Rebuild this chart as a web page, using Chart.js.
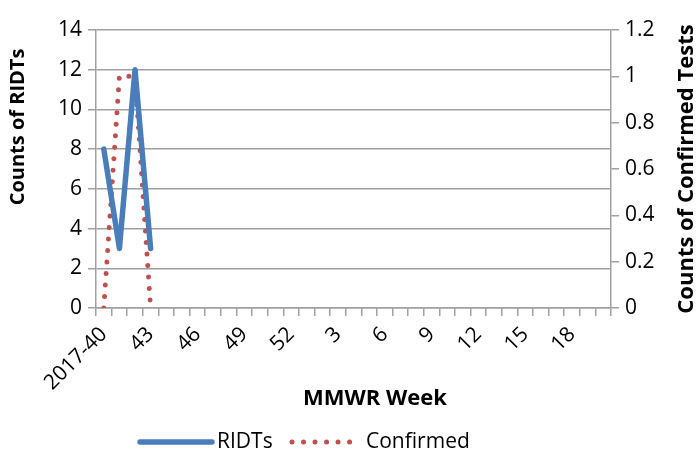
<html>
  <head>
    <title>RIDTs and Confirmed Tests by MMWR Week</title>
    <script src="https://cdn.jsdelivr.net/npm/chart.js"></script>
    <style>
      body {
        margin: 0;
        padding: 0;
        background-color: #ffffff;
      }
    </style>
  </head>
  <body>
    <canvas id="weekChart" width="699" height="458"></canvas>

    <script>
      // MMWR weeks: 2017-40 .. 52, then 1 .. 20
      const weeks = ['2017-40', '41', '42', '43', '44', '45', '46', '47', '48', '49', '50', '51', '52',
                     '1', '2', '3', '4', '5', '6', '7', '8', '9', '10', '11', '12', '13', '14', '15',
                     '16', '17', '18', '19', '20'];
      // only the first weeks have been reported
      const ridts = [8, 3, 12, 3];
      const confirmed = [0, 1, 1, 0];

      const leftTicks = [0, 2, 4, 6, 8, 10, 12, 14];
      const rightTicks = [0, 0.2, 0.4, 0.6, 0.8, 1, 1.2];

      const gridGrey = '#a0a0a0';
      const tickFont = { family: 'Open Sans', size: 21 };

      // axis titles and legend, placed like the Excel original
      const extras = {
        id: 'extras',
        afterDraw: function(chart) {
          const c = chart.ctx;
          const area = chart.chartArea;
          c.save();
          c.fillStyle = '#000';
          c.textBaseline = 'middle';

          c.textAlign = 'center';
          c.font = 'bold 20px "Open Sans"';
          c.save();
          c.translate(18, 127);
          c.rotate(-Math.PI / 2);
          c.fillText('Counts of RIDTs', 0, 0);
          c.restore();

          c.font = 'bold 22px "Open Sans"';
          c.save();
          c.translate(687, (area.top + area.bottom) / 2);
          c.rotate(-Math.PI / 2);
          c.fillText('Counts of Confirmed Tests', 0, 0);
          c.restore();

          c.fillText('MMWR Week', 375, 399);

          // legend
          const y = 442;
          const items = [
            { ds: chart.data.datasets[0], x0: 140, x1: 212, tx: 217 },
            { ds: chart.data.datasets[1], x0: 292, x1: 355, tx: 366 }
          ];
          c.font = '21px "Open Sans"';
          c.textAlign = 'left';
          items.forEach(function(it) {
            c.save();
            c.strokeStyle = it.ds.borderColor;
            c.lineWidth = it.ds.borderWidth;
            c.lineCap = it.ds.borderCapStyle || 'round';
            c.setLineDash(it.ds.borderDash || []);
            c.beginPath();
            c.moveTo(it.x0, y);
            c.lineTo(it.x1, y);
            c.stroke();
            c.restore();
            c.fillText(it.ds.label, it.tx, y);
          });
          c.restore();
        }
      };

      const ctx = document.getElementById('weekChart').getContext('2d');
      const weekChart = new Chart(ctx, {
        type: 'line',
        data: {
          labels: weeks,
          datasets: [{
            label: 'RIDTs',
            data: ridts,
            yAxisID: 'y',
            borderColor: '#4a7ebb',
            backgroundColor: '#4a7ebb',
            borderWidth: 5.5,
            borderJoinStyle: 'round',
            borderCapStyle: 'round',
            pointRadius: 0,
            tension: 0
          }, {
            label: 'Confirmed',
            data: confirmed,
            yAxisID: 'y1',
            borderColor: '#c0504d',
            backgroundColor: '#c0504d',
            borderWidth: 5,
            borderDash: [0.01, 11.5],
            borderCapStyle: 'round',
            pointRadius: 0,
            tension: 0
          }]
        },
        options: {
          responsive: false,
          animation: false,
          maintainAspectRatio: false,
          layout: { padding: { top: 30, bottom: 0 } },
          plugins: {
            tooltip: { enabled: false },
            legend: { display: false }
          },
          scales: {
            x: {
              offset: true,
              grid: {
                offset: true,
                drawOnChartArea: false,
                drawTicks: true,
                tickLength: 8,
                color: gridGrey,
                lineWidth: 1.5
              },
              border: { color: gridGrey, width: 1.5 },
              ticks: {
                autoSkip: false,
                maxRotation: 45,
                minRotation: 45,
                color: '#000',
                font: tickFont,
                padding: 6,
                callback: function(value, index) {
                  return index % 3 === 0 ? weeks[index] : '';
                }
              },
              afterFit: function(scale) { scale.height = 150; }
            },
            y: {
              position: 'left',
              min: 0,
              max: 14,
              afterBuildTicks: function(scale) {
                scale.ticks = leftTicks.map(v => ({ value: v }));
              },
              grid: {
                color: gridGrey,
                lineWidth: 1.5,
                tickLength: 8
              },
              border: { color: gridGrey, width: 1.5 },
              ticks: {
                color: '#000',
                font: tickFont,
                padding: 6
              },
              afterFit: function(scale) { scale.width = 96; }
            },
            y1: {
              position: 'right',
              min: 0,
              max: 1.2,
              afterBuildTicks: function(scale) {
                scale.ticks = rightTicks.map(v => ({ value: v }));
              },
              grid: {
                drawOnChartArea: false,
                color: gridGrey,
                lineWidth: 1.5,
                tickLength: 8
              },
              border: { color: gridGrey, width: 1.5 },
              ticks: {
                color: '#000',
                font: tickFont,
                padding: 6,
                callback: function(value) { return String(value); }
              },
              afterFit: function(scale) { scale.width = 88; }
            }
          }
        },
        plugins: [extras]
      });
    </script>
  </body>
</html>
